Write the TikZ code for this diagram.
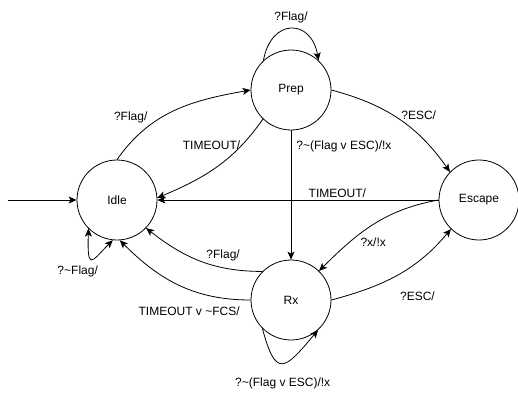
\documentclass[tikz,border=0pt]{standalone}
\usepackage{fontspec}
\setmainfont{Liberation Sans}
\usetikzlibrary{arrows.meta,automata,positioning,calc}
\tikzset{
  every state/.style={
    draw,
    inner sep=0pt,
    minimum size=80pt
  },
  lbl/.style={
    font=\fontsize{12}{14}\selectfont,
    inner sep=2pt
  }
}

\begin{document}
\begin{tikzpicture}[x=1pt,y=1pt,line width=0.8pt,
    >={Stealth[length=8pt,width=7pt,inset=2pt]},
    every node/.style={font=\fontsize{12}{14}\selectfont},
    initial text={},initial distance=69pt]
    \useasboundingbox (0,0) rectangle (518,400);
    \path{
      node[state,initial] (idle) at (117,200) {Idle}
      node[state] (prep) at (291,310) {Prep}
      node[state] (escape) at (479,200) {Escape}
      node[state] (rx) at (291,100) {Rx}
    };

    \path[->,draw]{
      (idle.north) edge[out=55,in=190] node[lbl,pos=0.3,above left]{?Flag/} (prep.west)
      (prep.133) edge[out=80,in=100,looseness=2] node[lbl,above=3pt]{?Flag/} (prep.47)
      (prep.226) edge[out=235,in=23] node[lbl,pos=0.25,left,xshift=2pt,yshift=1pt]{TIMEOUT/} (idle.3)
      (prep.east) edge[out=-15,in=125] node[lbl,pos=0.5,right,yshift=4pt]{?ESC/} (escape.136)
      (prep) edge node[lbl,pos=0.12,right=3pt]{?\textasciitilde(Flag v ESC)/!x} (rx)
      (escape) edge node[lbl,pos=0.36,above]{TIMEOUT/} (idle)
      (escape.west) edge[out=190,in=45] node[lbl,pos=0.5,below=11pt]{?x/!x} (rx.46)
      (rx.east) edge[out=15,in=230] node[lbl,pos=0.5,below right,yshift=-15pt]{?ESC/} (escape.226)
      (rx.225) edge[out=285,in=230,looseness=2.4] node[lbl,below=12pt]{?\textasciitilde(Flag v ESC)/!x} (rx.312)
      (rx.135) edge[out=180,in=-38] node[lbl,pos=0.3,above=4pt]{?Flag/} (idle.316)
      (rx.west) edge[out=180,in=-45] node[lbl,pos=0.42,below=15pt]{TIMEOUT v \textasciitilde FCS/} (idle.274)
      (idle.225) edge[out=268,in=225,out looseness=4.2,in looseness=3] node[lbl,pos=0.45,below=4pt,xshift=-13pt]{?\textasciitilde Flag/} (idle.264)
    };
  \end{tikzpicture}
\end{document}
